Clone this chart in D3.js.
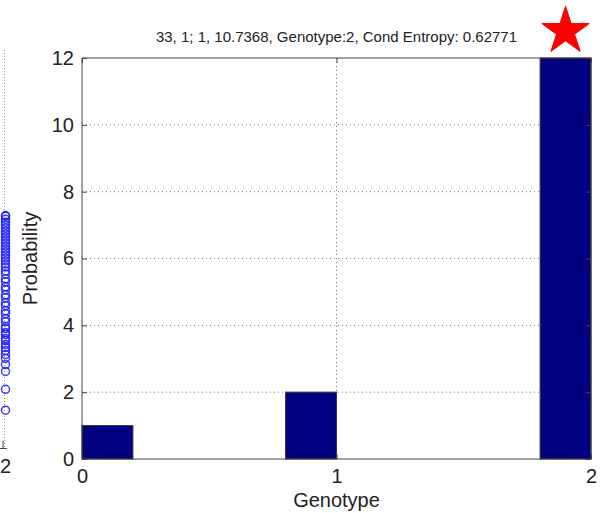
<!DOCTYPE html>
<html>
<head>
<meta charset="utf-8">
<script src="https://cdn.jsdelivr.net/npm/d3@7"></script>
<style>
  html, body { margin: 0; padding: 0; background: #fff; }
  svg { display: block; }
  text { font-family: "Liberation Sans", Arial, sans-serif; fill: #222; }
</style>
</head>
<body>
<svg id="chart" width="605" height="513"></svg>
<script>
// ---- data ----
const binLeft = [0, 0.8, 1.8];
const binRight = [0.2, 1.0, 2.0];
const counts = [1, 2, 12];
const xTicks = [0, 1, 2];
const yTicks = [0, 2, 4, 6, 8, 10, 12];
const titleText = "33, 1; 1, 10.7368, Genotype:2, Cond Entropy: 0.62771";
const xLabel = "Genotype";
const yLabel = "Probability";
const starPoint = [1.9, 12.8];
// partially visible neighbouring scatter panel (genotype 2 column)
const leftGenotype = 2;
const leftTickLabels = ["2"];
const leftValues = [1.9, 2.95, 3.85, 4.2, 4.5, 4.7, 4.9, 5.05, 5.2, 5.4, 5.5, 5.7, 5.8, 6.0, 6.1, 6.35, 6.5,
  6.75, 6.9, 7.15, 7.3, 7.55, 7.7, 7.95, 8.1, 8.35, 8.5, 8.75, 8.9, 9.1, 9.25, 9.4, 9.55, 9.7, 9.85,
  10.0, 10.15, 10.3, 10.45, 10.6, 10.75, 10.9, 11.05, 11.2, 11.35, 11.5, 11.65, 11.68];

const svg = d3.select("#chart");

// ---- left partial panel ----
const lx = d3.scaleLinear().domain([1.9, 2.1]).range([-14, 22]);
const ly = d3.scaleLinear().domain([0, 20]).range([448, 50]);
svg.append("line")
  .attr("x1", lx(leftGenotype) + 0.5).attr("x2", lx(leftGenotype) + 0.5)
  .attr("y1", ly(20)).attr("y2", ly(0))
  .attr("stroke", "#999").attr("stroke-width", 1).attr("stroke-dasharray", "1,2");
svg.append("line").attr("x1", 0).attr("x2", lx(leftGenotype) + 3)
  .attr("y1", ly(0) + 0.5).attr("y2", ly(0) + 0.5).attr("stroke", "#444");
svg.append("line").attr("x1", lx(leftGenotype) - 1).attr("x2", lx(leftGenotype) - 1)
  .attr("y1", ly(0) - 7).attr("y2", ly(0)).attr("stroke", "#444");
svg.append("g").selectAll("circle").data(leftValues).join("circle")
  .attr("cx", lx(leftGenotype) + 1.5).attr("cy", d => ly(d)).attr("r", 4)
  .attr("fill", "none").attr("stroke", "#1a1aff").attr("stroke-opacity", 0.85).attr("stroke-width", 1.5);
svg.append("text").attr("x", 0).attr("y", ly(0) + 25)
  .attr("text-anchor", "start").attr("font-size", 20).text(leftTickLabels[0]);

// ---- main histogram ----
const x = d3.scaleLinear().domain([0, 2]).range([82, 591]);
const y = d3.scaleLinear().domain([0, 12]).range([459, 58]);

const grid = svg.append("g");
grid.selectAll("line.gy").data(yTicks.slice(1, -1)).join("line")
  .attr("x1", x(0)).attr("x2", x(2)).attr("y1", d => y(d)).attr("y2", d => y(d))
  .attr("stroke", "#777").attr("stroke-width", 1).attr("stroke-dasharray", "1,3");
grid.selectAll("line.gx").data(xTicks.slice(1, -1)).join("line")
  .attr("x1", d => x(d)).attr("x2", d => x(d)).attr("y1", y(12)).attr("y2", y(0))
  .attr("stroke", "#777").attr("stroke-width", 1).attr("stroke-dasharray", "1,3");

svg.append("g").selectAll("rect").data(counts).join("rect")
  .attr("x", (d, i) => x(binLeft[i]))
  .attr("width", (d, i) => x(binRight[i]) - x(binLeft[i]))
  .attr("y", d => y(d))
  .attr("height", d => y(0) - y(d))
  .attr("fill", "#000080").attr("stroke", "#333").attr("stroke-width", 1);

// frame
svg.append("rect").attr("x", x(0)).attr("y", y(12)).attr("width", x(2) - x(0)).attr("height", y(0) - y(12))
  .attr("fill", "none").attr("stroke", "#444").attr("stroke-width", 1);

// axes (inward ticks)
const axL = d3.axisLeft(y).tickValues(yTicks).tickSize(-5).tickPadding(8).tickFormat(d3.format("d"));
const axR = d3.axisRight(y).tickValues(yTicks).tickSize(-5).tickFormat("");
const axB = d3.axisBottom(x).tickValues(xTicks).tickSize(-5).tickPadding(10).tickFormat(d3.format("d"));
const axT = d3.axisTop(x).tickValues(xTicks).tickSize(-5).tickFormat("");
function styleAxis(g) {
  g.select(".domain").remove();
  g.selectAll(".tick line").attr("stroke", "#444");
  g.selectAll("text").attr("font-size", 20).attr("fill", "#111")
    .attr("font-family", "'Liberation Sans', Arial, sans-serif");
}
svg.append("g").attr("transform", `translate(${x(0)},0)`).call(axL).call(styleAxis);
svg.append("g").attr("transform", `translate(${x(2)},0)`).call(axR).call(styleAxis);
svg.append("g").attr("transform", `translate(0,${y(0)})`).call(axB).call(styleAxis);
svg.append("g").attr("transform", `translate(0,${y(12)})`).call(axT).call(styleAxis);

// labels
svg.append("text").attr("x", (x(0) + x(2)) / 2).attr("y", 42)
  .attr("text-anchor", "middle").attr("font-size", 15).text(titleText);
svg.append("text").attr("x", (x(0) + x(2)) / 2).attr("y", 507)
  .attr("text-anchor", "middle").attr("font-size", 20).text(xLabel);
svg.append("text").attr("transform", `translate(37,${(y(0) + y(12)) / 2}) rotate(-90)`)
  .attr("text-anchor", "middle").attr("font-size", 20).text(yLabel);

// star marker
svg.append("path")
  .attr("d", d3.symbol(d3.symbolStar, 700)())
  .attr("transform", `translate(${x(starPoint[0])},${y(starPoint[1])})`)
  .attr("fill", "#ff0000").attr("stroke", "#ff0000");
</script>
</body>
</html>
